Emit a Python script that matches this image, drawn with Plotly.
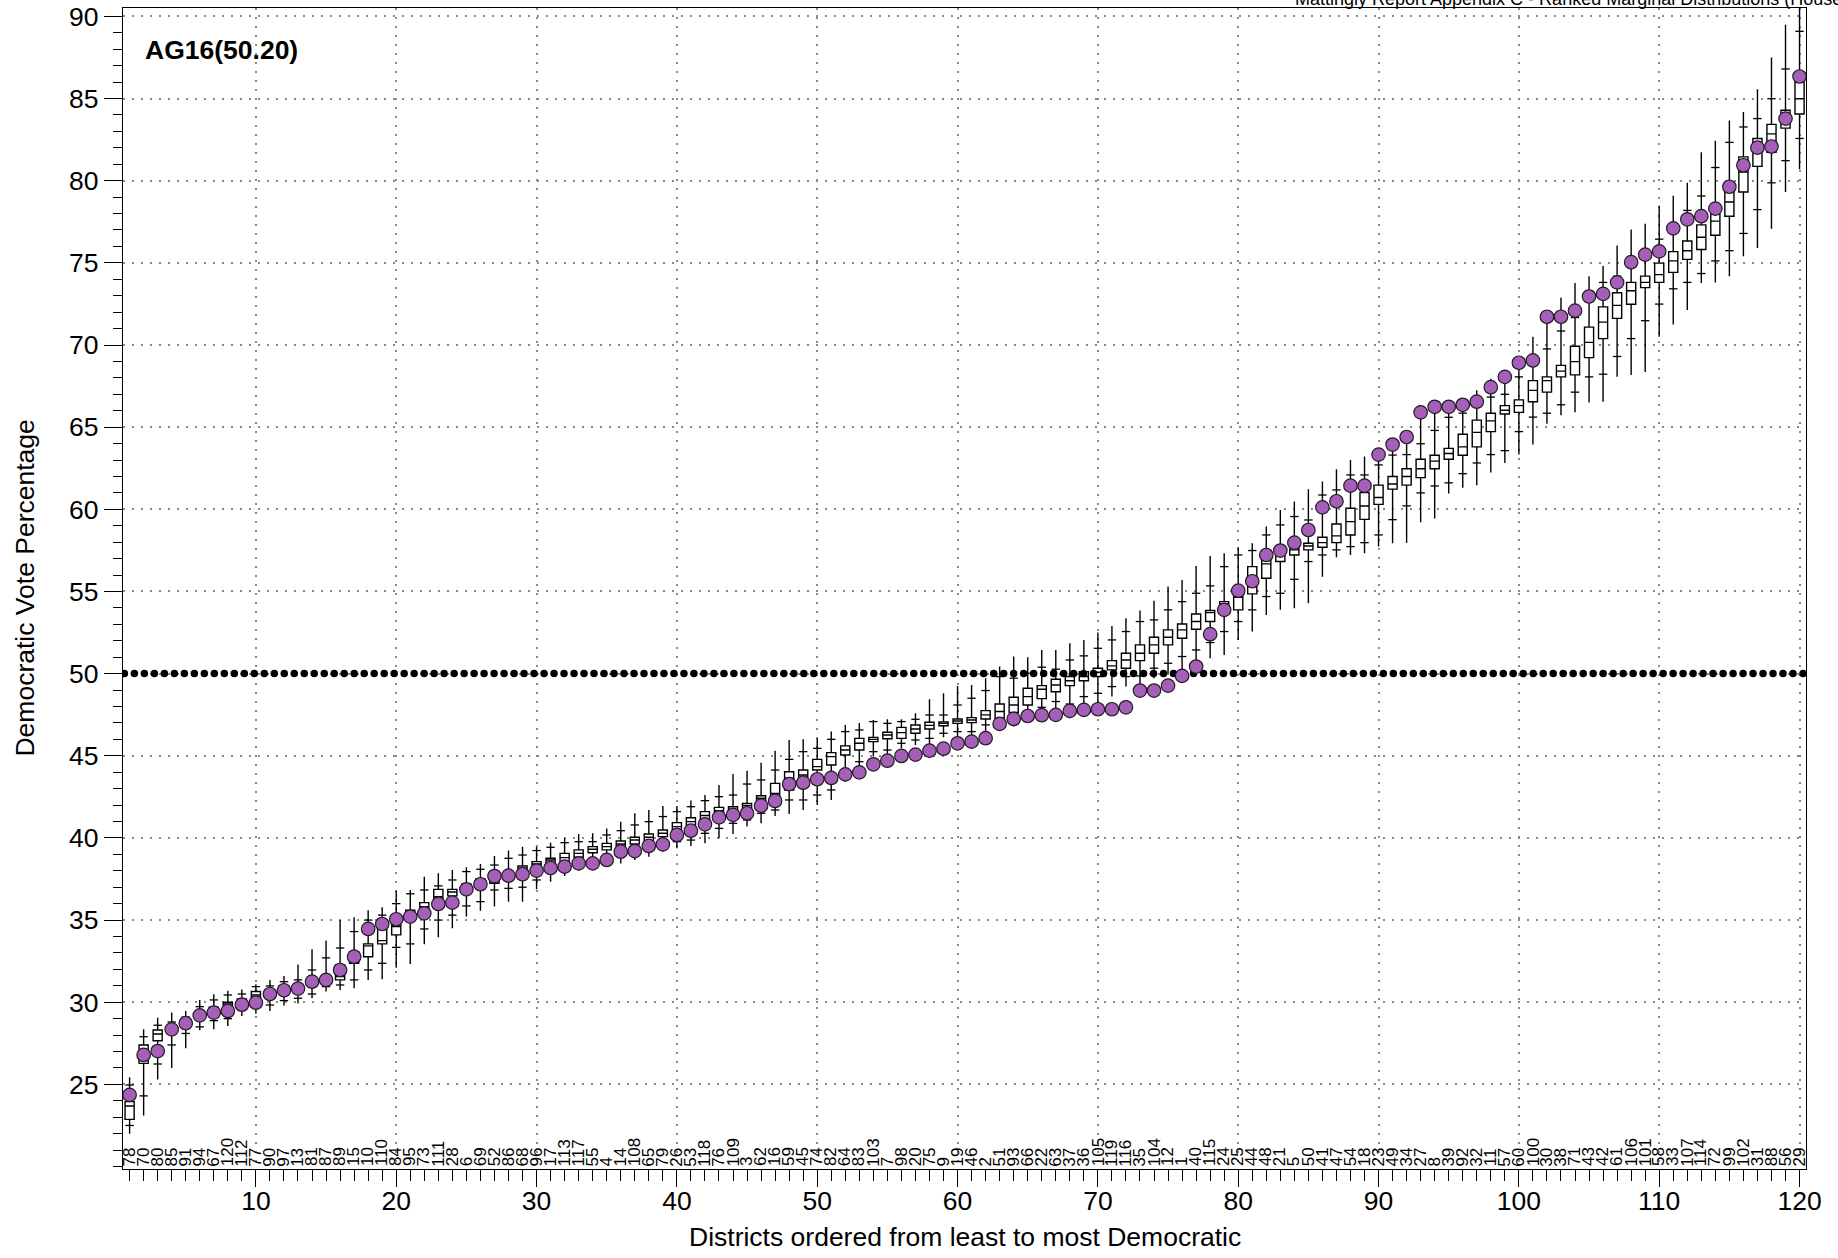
import numpy as np
import plotly.graph_objects as go

# district number shown under each rank position (left = least Democratic)
district_ids = [78, 70, 80, 85, 91, 94, 67, 120, 112, 77,
                90, 97, 13, 81, 87, 89, 15, 10, 110, 84,
                95, 73, 111, 28, 6, 69, 52, 86, 68, 96,
                17, 113, 117, 55, 4, 14, 108, 65, 79, 26,
                53, 118, 76, 109, 3, 62, 16, 59, 45, 74,
                82, 64, 83, 103, 7, 98, 20, 75, 9, 19,
                46, 2, 51, 93, 66, 22, 63, 37, 36, 105,
                119, 116, 35, 104, 12, 1, 40, 115, 24, 25,
                44, 48, 21, 5, 50, 41, 47, 54, 18, 23,
                49, 34, 27, 8, 39, 92, 32, 11, 57, 60,
                100, 30, 38, 71, 43, 42, 61, 106, 101, 58,
                33, 107, 114, 72, 99, 102, 31, 88, 56, 29]

# enacted plan (purple dots)
enacted = [24.36, 26.79, 27.03, 28.35, 28.72, 29.2, 29.37, 29.47, 29.85, 29.97,
           30.5, 30.73, 30.83, 31.25, 31.36, 31.96, 32.77, 34.46, 34.76, 35.05,
           35.21, 35.41, 35.98, 36.06, 36.87, 37.18, 37.68, 37.7, 37.79, 38.01,
           38.17, 38.25, 38.45, 38.45, 38.66, 39.16, 39.2, 39.51, 39.61, 40.18,
           40.44, 40.83, 41.25, 41.4, 41.5, 41.96, 42.25, 43.28, 43.36, 43.57,
           43.65, 43.87, 43.99, 44.48, 44.7, 44.99, 45.07, 45.31, 45.43, 45.76,
           45.86, 46.07, 46.94, 47.24, 47.42, 47.47, 47.49, 47.73, 47.79, 47.83,
           47.83, 47.95, 48.97, 48.97, 49.27, 49.86, 50.43, 52.4, 53.88, 55.05,
           55.62, 57.22, 57.49, 57.97, 58.74, 60.12, 60.49, 61.44, 61.44, 63.33,
           63.94, 64.4, 65.9, 66.24, 66.24, 66.36, 66.55, 67.43, 68.06, 68.92,
           69.06, 71.72, 71.72, 72.09, 72.95, 73.11, 73.81, 75.04, 75.5, 75.7,
           77.1, 77.65, 77.84, 78.3, 79.63, 80.94, 82.01, 82.08, 83.78, 86.34]

# ensemble distribution per rank
q1 = [22.87, 26.28, 27.66, 28.15, 28.55, 29.0, 29.25, 29.7, 29.85, 30.24,
      30.35, 30.7, 30.8, 31.1, 31.3, 31.36, 32.37, 32.77, 33.55, 34.1,
      35.0, 35.6, 36.2, 36.47, 36.8, 37.1, 37.24, 37.6, 37.95, 38.25,
      38.45, 38.56, 38.82, 39.1, 39.27, 39.43, 39.63, 39.77, 40.08, 40.48,
      40.73, 41.09, 41.4, 41.6, 41.86, 42.2, 42.51, 42.92, 43.63, 44.13,
      44.44, 45.05, 45.35, 45.86, 46.04, 46.06, 46.37, 46.63, 46.83, 46.97,
      47.02, 47.24, 47.28, 47.63, 48.09, 48.48, 48.9, 49.27, 49.57, 49.82,
      50.23, 50.33, 50.79, 51.24, 51.75, 52.15, 52.7, 53.17, 53.88, 53.88,
      54.85, 55.8, 56.82, 57.22, 57.53, 57.69, 57.97, 58.44, 59.39, 60.3,
      61.23, 61.47, 61.93, 62.47, 63.05, 63.29, 63.8, 64.73, 65.8, 65.9,
      66.55, 67.13, 68.06, 68.18, 69.23, 70.39, 71.62, 72.48, 73.49, 73.81,
      74.42, 75.21, 75.81, 76.68, 77.84, 79.31, 80.87, 81.73, 83.2, 84.06]
median = [23.68, 26.8, 28.07, 28.35, 28.75, 29.2, 29.45, 29.9, 30.05, 30.44,
          30.55, 30.85, 30.95, 31.25, 31.45, 31.56, 32.57, 33.43, 33.75, 34.6,
          35.3, 35.82, 36.43, 36.71, 37.0, 37.3, 37.44, 37.75, 38.15, 38.42,
          38.66, 38.8, 39.06, 39.31, 39.47, 39.63, 39.87, 40.04, 40.28, 40.69,
          40.99, 41.36, 41.66, 41.74, 41.98, 42.41, 42.71, 43.63, 43.83, 44.34,
          44.95, 45.35, 45.76, 46.0, 46.26, 46.41, 46.63, 46.85, 46.97, 47.12,
          47.18, 47.49, 47.69, 48.09, 48.6, 49.05, 49.31, 49.57, 49.82, 50.08,
          50.47, 50.83, 51.24, 51.75, 52.21, 52.66, 53.17, 53.71, 54.24, 54.65,
          55.4, 56.68, 57.33, 57.53, 57.77, 57.97, 58.38, 59.25, 60.2, 60.72,
          61.54, 62.0, 62.47, 62.93, 63.4, 63.8, 64.68, 65.38, 66.03, 66.31,
          67.24, 67.83, 68.41, 68.99, 70.16, 71.39, 72.41, 73.3, 73.81, 74.28,
          75.12, 75.74, 76.56, 77.54, 78.7, 80.52, 82.27, 82.85, 84.0, 84.99]
q3 = [23.95, 27.4, 28.31, 28.6, 28.95, 29.4, 29.7, 30.0, 30.2, 30.65,
      30.75, 31.0, 31.1, 31.4, 31.6, 32.27, 33.08, 33.55, 34.44, 34.7,
      35.6, 36.06, 36.87, 36.87, 37.2, 37.5, 37.85, 37.9, 38.29, 38.56,
      38.76, 39.06, 39.27, 39.47, 39.67, 39.81, 40.04, 40.24, 40.48, 40.93,
      41.23, 41.6, 41.86, 41.9, 42.1, 42.57, 43.32, 44.03, 44.13, 44.78,
      45.19, 45.6, 46.06, 46.12, 46.43, 46.73, 46.87, 47.04, 47.06, 47.24,
      47.32, 47.75, 48.15, 48.56, 49.11, 49.27, 49.66, 49.82, 50.12, 50.33,
      50.79, 51.24, 51.75, 52.21, 52.66, 53.02, 53.63, 53.84, 54.38, 54.89,
      56.51, 56.92, 57.57, 57.83, 57.93, 58.3, 59.11, 60.06, 61.02, 61.47,
      62.0, 62.47, 63.05, 63.29, 63.71, 64.57, 65.43, 65.85, 66.31, 66.66,
      67.83, 68.06, 68.76, 69.92, 71.09, 72.32, 73.18, 73.81, 74.19, 74.98,
      75.68, 76.33, 77.31, 77.95, 79.36, 81.45, 82.57, 83.43, 84.29, 85.99]
whisker_lo = [22.0, 23.1, 25.3, 26.0, 27.2, 28.3, 28.35, 28.56, 29.16, 29.3,
              29.47, 29.8, 29.93, 30.24, 30.65, 30.75, 30.85, 31.36, 31.4, 32.1,
              32.33, 33.53, 33.95, 34.5, 35.21, 35.57, 35.82, 36.12, 36.12, 36.87,
              37.34, 37.68, 38.01, 38.15, 38.25, 38.45, 38.66, 38.86, 39.16, 39.37,
              39.51, 39.67, 39.98, 40.24, 40.69, 40.89, 41.34, 41.46, 41.7, 42.0,
              42.31, 43.42, 44.34, 44.95, 44.95, 45.45, 45.66, 45.72, 46.12, 46.12,
              46.17, 46.47, 46.98, 46.78, 47.08, 47.38, 47.79, 47.28, 47.99, 48.03,
              48.6, 49.21, 49.31, 49.72, 50.02, 50.23, 50.83, 50.93, 51.14, 52.05,
              52.56, 53.57, 53.88, 53.98, 54.28, 55.9, 57.08, 57.22, 57.33, 57.74,
              57.93, 57.97, 59.21, 59.44, 60.96, 61.31, 61.47, 62.24, 62.82, 63.33,
              63.94, 65.2, 65.73, 65.9, 66.5, 66.55, 68.06, 68.18, 68.36, 70.5,
              71.25, 72.13, 73.77, 73.81, 74.19, 75.4, 75.91, 77.07, 79.31, 80.7]
tick_lo = [22.5, 24.3, 26.24, 27.4, 28.1, 28.5, 28.88, 29.0, 29.5, 29.8,
           29.83, 30.1, 30.24, 30.5, 30.95, 31.05, 31.36, 31.96, 32.37, 33.34,
           33.55, 34.46, 35.0, 35.3, 35.86, 36.12, 36.83, 36.93, 37.0, 37.44,
           37.85, 37.95, 38.25, 38.4, 38.56, 38.86, 38.96, 39.27, 39.47, 39.77,
           39.87, 40.28, 40.58, 40.89, 41.09, 41.5, 41.7, 42.31, 42.31, 42.61,
           42.92, 43.73, 44.64, 45.25, 45.35, 45.76, 45.96, 46.06, 46.37, 46.47,
           46.47, 46.88, 47.18, 47.08, 47.59, 47.95, 48.3, 48.15, 48.6, 48.8,
           49.21, 49.82, 49.86, 50.33, 50.63, 51.04, 51.44, 51.89, 52.56, 53.17,
           53.88, 54.69, 54.89, 55.74, 56.82, 57.22, 57.53, 57.73, 57.97, 58.44,
           59.37, 60.21, 61.0, 61.42, 61.61, 62.17, 62.82, 63.33, 63.57, 64.73,
           65.61, 65.85, 66.36, 67.13, 68.06, 68.22, 69.3, 70.39, 71.48, 72.49,
           73.42, 73.81, 74.35, 75.12, 75.74, 76.79, 78.24, 79.87, 81.22, 82.57]
tick_hi = [24.96, 27.9, 28.6, 28.8, 29.1, 29.73, 30.14, 30.44, 30.5, 30.95,
           30.99, 31.25, 31.36, 31.96, 32.7, 33.3, 34.3, 35.0, 35.3, 36.0,
           36.6, 36.83, 37.08, 37.44, 37.95, 38.09, 38.35, 38.76, 38.96, 39.23,
           39.43, 39.71, 39.77, 39.77, 40.18, 40.44, 40.79, 40.99, 41.3, 41.6,
           41.9, 42.27, 42.51, 42.61, 43.28, 43.53, 44.13, 44.78, 45.25, 45.45,
           46.0, 46.47, 46.57, 47.08, 46.97, 47.08, 47.22, 47.48, 47.48, 48.09,
           48.5, 48.97, 49.82, 49.72, 50.02, 50.39, 50.27, 50.83, 51.08, 51.54,
           52.05, 52.56, 53.17, 53.27, 53.88, 54.38, 54.89, 55.34, 56.51, 57.22,
           57.49, 58.44, 59.05, 59.56, 59.35, 60.87, 61.18, 62.09, 62.09, 62.7,
           63.3, 63.33, 63.99, 64.8, 65.6, 65.85, 66.55, 66.83, 67.0, 68.06,
           69.06, 69.76, 70.85, 71.67, 73.3, 73.81, 74.19, 75.04, 75.5, 76.44,
           77.1, 78.19, 79.07, 80.8, 82.33, 83.27, 83.78, 84.99, 86.8, 89.09]
whisker_hi = [25.43, 28.35, 29.06, 29.37, 29.47, 30.14, 30.48, 30.7, 30.78, 31.1,
              31.36, 31.6, 32.3, 33.22, 33.75, 35.0, 35.17, 35.6, 35.78, 36.79,
              36.83, 37.64, 37.85, 38.05, 38.21, 38.42, 38.9, 39.23, 39.47, 39.47,
              39.71, 40.0, 40.24, 40.28, 40.58, 40.99, 41.5, 41.7, 41.94, 41.94,
              42.27, 42.61, 43.22, 43.89, 44.09, 44.58, 45.31, 45.96, 46.0, 46.06,
              46.47, 46.87, 47.0, 47.18, 47.22, 47.22, 47.58, 48.44, 48.8, 49.25,
              49.31, 49.72, 50.43, 51.04, 51.0, 51.44, 51.44, 51.85, 52.05, 52.5,
              52.9, 53.37, 53.84, 54.44, 55.3, 55.7, 56.55, 57.16, 57.33, 57.69,
              57.93, 58.95, 59.96, 60.47, 61.22, 61.69, 62.44, 63.0, 63.21, 63.6,
              64.2, 64.6, 66.0, 66.3, 66.3, 66.5, 67.24, 67.94, 68.1, 69.0,
              70.5, 71.7, 72.88, 73.77, 74.19, 74.81, 76.05, 77.03, 77.38, 78.47,
              79.08, 79.87, 81.73, 82.43, 83.66, 84.18, 85.57, 87.5, 89.49, 91.5]

plan_label = "AG16(50.20)"
page_title = "Mattingly Report Appendix C - Ranked Marginal Distributions (House)"

FONT = "Liberation Sans, Arial, Helvetica, sans-serif"
X_RANGE = [0.53, 120.46]
Y_RANGE = [19.85, 90.51]

rank = list(range(1, len(enacted) + 1))

fig = go.Figure()

# ensemble boxes
fig.add_trace(go.Box(
    x=rank, q1=q1, median=median, q3=q3,
    lowerfence=whisker_lo, upperfence=whisker_hi,
    width=0.65, whiskerwidth=0,
    fillcolor="white",
    line=dict(color="black", width=1.4),
    boxpoints=False, hoverinfo="skip", showlegend=False,
))

# small marks along each whisker
fig.add_trace(go.Scatter(
    x=rank + rank, y=tick_lo + tick_hi,
    mode="markers",
    marker=dict(symbol="line-ew", size=6, color="black",
                line=dict(color="black", width=1.3)),
    hoverinfo="skip", showlegend=False,
))

# 50% reference, drawn as a row of heavy dots
dot_x = np.arange(X_RANGE[0] + 0.1, X_RANGE[1], 0.712)
fig.add_trace(go.Scatter(
    x=dot_x, y=np.full_like(dot_x, 50.0),
    mode="markers",
    marker=dict(size=7.5, color="black"),
    hoverinfo="skip", showlegend=False,
))

# enacted plan
fig.add_trace(go.Scatter(
    x=rank, y=enacted,
    mode="markers",
    marker=dict(size=13.5, color="#a55fb8",
                line=dict(color="#221a24", width=1.2)),
    customdata=district_ids,
    hovertemplate="District %{customdata}<br>%{y:.2f}%<extra></extra>",
    showlegend=False,
))

annotations = []
for r, d in zip(rank, district_ids):
    annotations.append(dict(
        x=r, y=Y_RANGE[0] + 0.1, xref="x", yref="y",
        text=str(d), textangle=-90,
        xanchor="center", yanchor="bottom",
        showarrow=False, borderpad=0,
        font=dict(family=FONT, size=17, color="black"),
    ))

annotations += [
    dict(x=0.012, y=0.9638, xref="paper", yref="paper", text=f"<b>{plan_label}</b>",
         xanchor="left", yanchor="middle", showarrow=False,
         font=dict(family=FONT, size=26.5, color="black")),
    dict(x=-0.0588, y=0.5, xref="paper", yref="paper",
         text="Democratic Vote Percentage", textangle=-90,
         xanchor="center", yanchor="middle", showarrow=False,
         font=dict(family=FONT, size=26.5, color="black")),
    dict(x=0.5, y=0, xref="paper", yref="paper",
         text="Districts ordered from least to most Democratic",
         xanchor="center", yanchor="middle", yshift=-68, showarrow=False,
         font=dict(family=FONT, size=26.5, color="black")),
    dict(x=(1293 - 123) / 1683, y=1, xref="paper", yref="paper",
         text=page_title, xanchor="left", yanchor="middle", yshift=9.5,
         showarrow=False, font=dict(family=FONT, size=18, color="black")),
]

grid = dict(showgrid=True, gridcolor="#8a8a8a", gridwidth=1.5,
            griddash="1.5px,7.5px")

fig.update_layout(
    width=1838, height=1258,
    margin=dict(l=123, r=32, t=8, b=89),
    paper_bgcolor="white", plot_bgcolor="white",
    font=dict(family=FONT, size=26.5, color="black"),
    showlegend=False,
    annotations=annotations,
    xaxis=dict(
        range=X_RANGE, tickvals=list(range(10, 121, 10)),
        ticks="outside", ticklen=17, tickwidth=1.3, tickcolor="black",
        tickfont=dict(size=26.5), ticklabelstandoff=-9, automargin=False,
        minor=dict(tick0=0, dtick=1, ticks="outside", ticklen=11,
                   tickwidth=1.3, tickcolor="black", showgrid=False),
        showline=True, linecolor="black", linewidth=1.4, mirror=True,
        zeroline=False, **grid,
    ),
    yaxis=dict(
        range=Y_RANGE, tickvals=list(range(25, 91, 5)),
        ticks="outside", ticklen=18, tickwidth=1.3, tickcolor="black",
        tickfont=dict(size=26.5), automargin=False,
        minor=dict(tick0=0, dtick=1, ticks="outside", ticklen=9,
                   tickwidth=1.3, tickcolor="black", showgrid=False),
        showline=True, linecolor="black", linewidth=1.4, mirror=True,
        zeroline=False, **grid,
    ),
)

fig.write_html(
    "out.html",
    config={"displayModeBar": False},
    post_script="document.body.style.margin='0px';"
                "document.body.style.overflow='hidden';",
)
